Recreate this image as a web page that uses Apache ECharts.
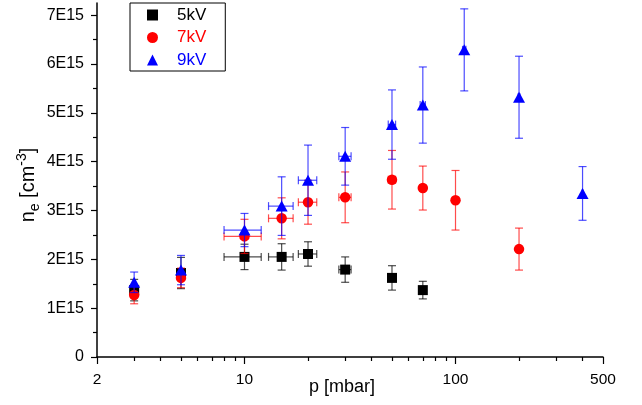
<!DOCTYPE html>
<html>
<head>
<meta charset="utf-8">
<script src="https://cdn.jsdelivr.net/npm/echarts@6/dist/echarts.min.js"></script>
<style>
  html, body { margin: 0; padding: 0; background: #ffffff; }
  #chart { width: 642px; height: 405px; }
</style>
</head>
<body>
<div id="chart"></div>
<script>
// Pressure p in mbar; electron density n_e in units of 1E15 cm^-3.
const p5kV   = [3, 5, 10, 15, 20, 30, 50, 70];
const ne5kV  = [1.37, 1.72, 2.05, 2.05, 2.11, 1.79, 1.62, 1.37];
const dne5kV = [0.22, 0.32, 0.26, 0.27, 0.25, 0.26, 0.25, 0.18];
const dp5kV  = [0, 0, 2, 2, 2, 2, 2, 2];

const p7kV   = [3, 5, 10, 15, 20, 30, 50, 70, 100, 200];
const ne7kV  = [1.27, 1.62, 2.47, 2.84, 3.17, 3.27, 3.63, 3.46, 3.21, 2.21];
const dne7kV = [0.18, 0.20, 0.35, 0.42, 0.45, 0.52, 0.60, 0.45, 0.61, 0.43];
const dp7kV  = [0, 0, 2, 2, 2, 2, 2, 2, 2, 2];

const p9kV   = [3, 5, 10, 15, 20, 30, 50, 70, 110, 200, 400];
const ne9kV  = [1.53, 1.78, 2.60, 3.09, 3.62, 4.11, 4.76, 5.16, 6.29, 5.32, 3.35];
const dne9kV = [0.21, 0.30, 0.34, 0.60, 0.72, 0.59, 0.71, 0.78, 0.84, 0.84, 0.55];
const dp9kV  = [0, 0, 2, 2, 2, 2, 2, 2, 2, 2, 2];

const seriesNames = ['5kV', '7kV', '9kV'];

// Axis ticks and labels
const xMajorTicks = [2, 10, 100, 500];
const xMinorTicks = [3, 4, 5, 6, 7, 8, 9, 20, 30, 40, 50, 60, 70, 80, 90, 200, 300, 400];
const yMajorTicks = [0, 1, 2, 3, 4, 5, 6, 7];
const yMinorTicks = [0.5, 1.5, 2.5, 3.5, 4.5, 5.5, 6.5];

const FONT = '"Liberation Sans", Arial, sans-serif';

function points(p, ne) { return p.map((v, i) => [v, ne[i]]); }
function errPoints(p, ne, dne, dp) { return p.map((v, i) => [v, ne[i], dne[i], dp[i]]); }

// Error bars with caps in both directions
function errorBarRenderer(color) {
  return function (params, api) {
    const x = api.value(0), y = api.value(1), ey = api.value(2), ex = api.value(3);
    const c = api.coord([x, y]);
    const style = { stroke: color, lineWidth: 1.2, opacity: 0.7 };
    const cap = 4;
    const kids = [];
    if (ey > 0) {
      const t = api.coord([x, y + ey]);
      const b = api.coord([x, y - ey]);
      kids.push({ type: 'line', shape: { x1: c[0], y1: t[1], x2: c[0], y2: b[1] }, style });
      kids.push({ type: 'line', shape: { x1: c[0] - cap, y1: t[1], x2: c[0] + cap, y2: t[1] }, style });
      kids.push({ type: 'line', shape: { x1: c[0] - cap, y1: b[1], x2: c[0] + cap, y2: b[1] }, style });
    }
    if (ex > 0) {
      const l = api.coord([x - ex, y]);
      const r = api.coord([x + ex, y]);
      kids.push({ type: 'line', shape: { x1: l[0], y1: c[1], x2: r[0], y2: c[1] }, style });
      kids.push({ type: 'line', shape: { x1: l[0], y1: c[1] - cap, x2: l[0], y2: c[1] + cap }, style });
      kids.push({ type: 'line', shape: { x1: r[0], y1: c[1] - cap, x2: r[0], y2: c[1] + cap }, style });
    }
    return { type: 'group', children: kids };
  };
}

const groups = [
  { name: seriesNames[0], color: '#000000', symbol: 'rect',     size: 10,       p: p5kV, ne: ne5kV, dne: dne5kV, dp: dp5kV },
  { name: seriesNames[1], color: '#ff0000', symbol: 'circle',   size: 10.5,     p: p7kV, ne: ne7kV, dne: dne7kV, dp: dp7kV },
  { name: seriesNames[2], color: '#0000ff', symbol: 'triangle', size: [12, 11], p: p9kV, ne: ne9kV, dne: dne9kV, dp: dp9kV }
];

const series = [];
groups.forEach((g, k) => {
  series.push({
    type: 'custom',
    name: g.name + ' error',
    xAxisIndex: 0, yAxisIndex: 0,
    renderItem: errorBarRenderer(g.color),
    encode: { x: 0, y: 1 },
    data: errPoints(g.p, g.ne, g.dne, g.dp),
    z: 2 + k * 2,
    silent: true
  });
  series.push({
    type: 'scatter',
    name: g.name,
    xAxisIndex: 0, yAxisIndex: 0,
    symbol: g.symbol,
    symbolSize: g.size,
    itemStyle: { color: g.color, opacity: 1 },
    data: points(g.p, g.ne),
    z: 3 + k * 2
  });
});

const chart = echarts.init(document.getElementById('chart'), null, { renderer: 'canvas' });
chart.setOption({
  animation: false,
  backgroundColor: '#ffffff',
  textStyle: { fontFamily: FONT },
  grid: { left: 97, right: 39, top: 3, bottom: 48, containLabel: false, outerBoundsMode: 'none' },
  legend: {
    orient: 'vertical',
    left: 130, top: 3,
    padding: [3, 19, 2, 17],
    itemWidth: 11, itemHeight: 11, itemGap: 4.5,
    symbolKeepAspect: true,
    borderColor: '#000000', borderWidth: 1, borderRadius: 0,
    textStyle: { fontSize: 17, fontFamily: FONT, lineHeight: 18, padding: [0, 0, 0, 14] },
    data: groups.map(g => ({ name: g.name, textStyle: { color: g.color } }))
  },
  xAxis: [
    {
      type: 'log', logBase: 10, min: 2, max: 500,
      position: 'bottom',
      name: 'p [mbar]', nameLocation: 'middle', nameGap: 21, nameMoveOverlap: false,
      nameTextStyle: { fontSize: 18, color: '#000', fontFamily: FONT, padding: [0, 16, 0, 0] },
      axisLine: { show: true, onZero: false, lineStyle: { color: '#000', width: 1.5 } },
      axisTick: { show: true, inside: false, length: 7, customValues: xMajorTicks, lineStyle: { color: '#000', width: 1.2 } },
      axisLabel: { show: true, customValues: xMajorTicks, margin: 15, fontSize: 15.5, color: '#000', fontFamily: FONT,
                   formatter: v => String(Math.round(v)) },
      splitLine: { show: false },
      minorTick: { show: false }
    },
    {
      type: 'log', logBase: 10, min: 2, max: 500,
      position: 'bottom', offset: 0,
      axisLine: { show: false },
      axisTick: { show: true, inside: false, length: 4, customValues: xMinorTicks, lineStyle: { color: '#000', width: 1.2 } },
      axisLabel: { show: false },
      splitLine: { show: false }
    }
  ],
  yAxis: [
    {
      type: 'value', min: 0, max: 7.25,
      position: 'left',
      name: '{a|n}{s|e}{a| [cm}{u|-3}{a|]}',
      nameLocation: 'middle', nameRotate: 90, nameGap: 55, nameMoveOverlap: false,
      nameTextStyle: {
        color: '#000', fontFamily: FONT, padding: [0, 10, 0, 0],
        rich: {
          a: { fontSize: 20, fontFamily: FONT, color: '#000', lineHeight: 27 },
          s: { fontSize: 14, fontFamily: FONT, color: '#000', verticalAlign: 'bottom' },
          u: { fontSize: 14, fontFamily: FONT, color: '#000', verticalAlign: 'top' }
        }
      },
      axisLine: { show: true, onZero: false, lineStyle: { color: '#000', width: 1.5 } },
      axisTick: { show: true, inside: false, length: 6, customValues: yMajorTicks, lineStyle: { color: '#000', width: 1.2 } },
      axisLabel: { show: true, customValues: yMajorTicks, margin: 13, fontSize: 16, color: '#000', fontFamily: FONT,
                   formatter: v => (v === 0 ? '0' : v + 'E15') },
      splitLine: { show: false }
    },
    {
      type: 'value', min: 0, max: 7.25,
      position: 'left', offset: 0,
      axisLine: { show: false },
      axisTick: { show: true, inside: false, length: 4, customValues: yMinorTicks, lineStyle: { color: '#000', width: 1.2 } },
      axisLabel: { show: false },
      splitLine: { show: false }
    }
  ],
  series: series
});
</script>
</body>
</html>
